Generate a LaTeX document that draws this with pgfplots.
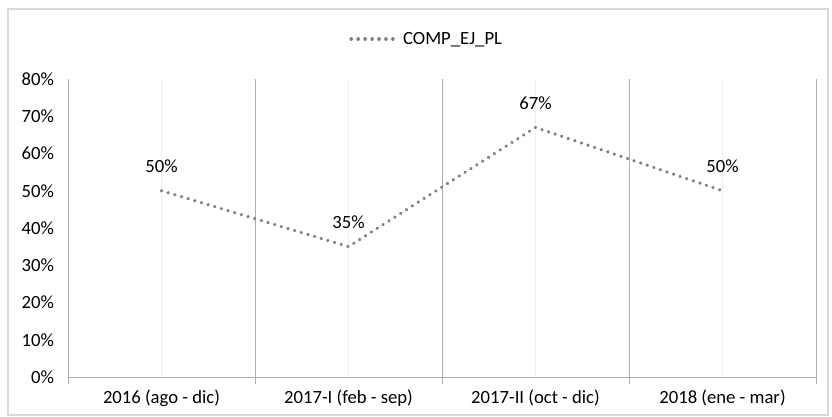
\documentclass[border=0pt]{standalone}
\usepackage{pgfplots}
\pgfplotsset{compat=1.18}
\usepackage{fontspec}
\setmainfont{Carlito}
\definecolor{serie}{RGB}{128,128,128}
\definecolor{bordes}{RGB}{175,175,175}
\definecolor{suave}{RGB}{238,238,238}
\definecolor{marco}{RGB}{217,217,217}
\begin{document}
\begin{tikzpicture}
\path (-51pt,-30pt) rectangle (573pt,282.75pt);
\fill[white] (-45pt,-28.5pt) rectangle (570pt,276pt);
\draw[marco, line width=0.9pt] (-45pt,-28.5pt) rectangle (570pt,276pt);
\begin{axis}[
  at={(0,0)}, anchor=south west,
  scale only axis, width=561pt, height=223.5pt,
  xmin=-0.5, xmax=3.5, ymin=0, ymax=80,
  font=\fontsize{14}{16}\selectfont,
  /pgf/number format/assume math mode=true,
  xtick={0,1,2,3},
  xticklabels={2016 (ago - dic), 2017-I (feb - sep), 2017-II (oct - dic), 2018 (ene - mar)},
  major tick length=0pt,
  xmajorgrids, major grid style={suave, line width=0.6pt},
  extra x ticks={-0.5,0.5,1.5,2.5,3.5},
  extra x tick labels={},
  extra x tick style={grid=major, major grid style={bordes, line width=0.7pt},
    major tick length=5pt, tick style={bordes, line width=0.7pt}, tick pos=bottom, tick align=outside},
  ytick={0,10,...,80},
  yticklabel={\pgfmathprintnumber{\tick}\%},
  yticklabel style={xshift=-7pt},
  xticklabel style={yshift=-6pt},
  axis x line*=bottom, axis y line*=left,
  axis line style={bordes, line width=0.7pt, -},
  ytick style={draw=none},
  legend style={at={(0.48,1.134)}, anchor=center, draw=none, fill=none,
    font=\fontsize{14}{16}\selectfont},
  legend image code/.code={\draw[#1] (0cm,0cm) -- (1.25cm,0cm);},
  nodes near coords={\pgfmathprintnumber{\pgfplotspointmeta}\%},
  every node near coord/.append style={anchor=south, yshift=12pt, inner sep=0pt, text=black,
    font=\fontsize{14}{16}\selectfont},
  clip=false,
]
\addplot[serie, line width=2.7pt, line cap=round, dash pattern=on 0.01pt off 5.2pt, mark=none]
  coordinates {(0,50) (1,35) (2,67) (3,50)};
\addlegendentry{COMP\_EJ\_PL}
\end{axis}
\end{tikzpicture}
\end{document}
